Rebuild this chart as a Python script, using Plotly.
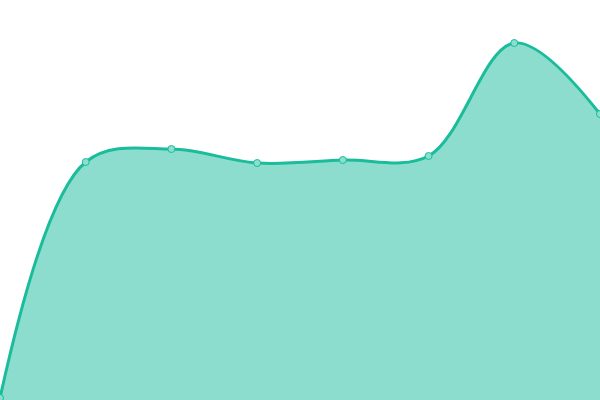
import plotly.graph_objects as go

# data (8 evenly spaced points)
x_vals = [0, 1, 2, 3, 4, 5, 6, 7]
y_vals = [2, 238, 251, 237, 240, 244, 357, 286]

line_color = "#1abc9c"
fill_color = "rgba(26,188,156,0.5)"

fig = go.Figure(go.Scatter(
    x=x_vals, y=y_vals,
    mode="lines+markers",
    line=dict(color=line_color, width=3, shape="spline", smoothing=1),
    fill="tozeroy", fillcolor=fill_color,
    marker=dict(size=7, color="#8ae0cf", line=dict(color=line_color, width=1)),
    hoverinfo="skip",
    cliponaxis=False,
))

fig.update_layout(
    width=600, height=400,
    margin=dict(l=0, r=0, t=0, b=0),
    paper_bgcolor="white", plot_bgcolor="white",
    showlegend=False,
    xaxis=dict(range=[0, 7], visible=False, fixedrange=True),
    yaxis=dict(range=[0, 400], visible=False, fixedrange=True),
)

# page body has a default 8px margin, drop it so the chart fills the window
fig.write_html("out.html", config={"displayModeBar": False},
               post_script="document.body.style.margin='0';")
